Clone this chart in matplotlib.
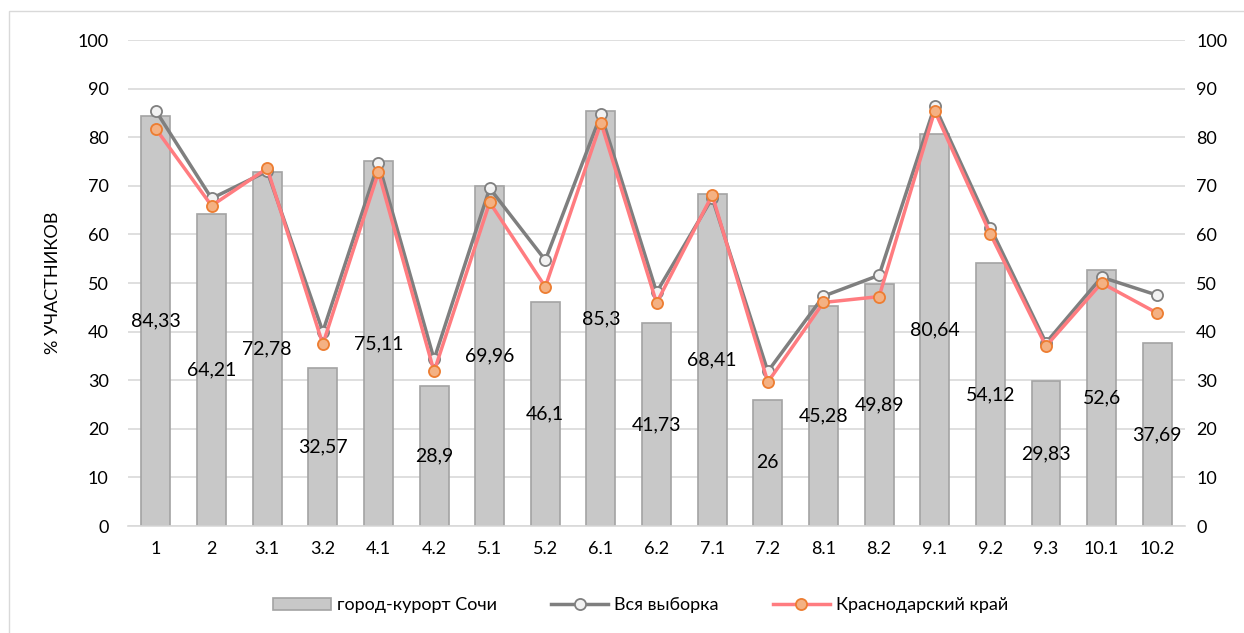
import numpy as np
import matplotlib
matplotlib.use("Agg")
from matplotlib import pyplot as plt
from matplotlib.patches import Rectangle

plt.rcParams['font.family'] = ['Lato', 'DejaVu Sans']

# Data
categories = ["1", "2", "3.1", "3.2", "4.1", "4.2", "5.1", "5.2", "6.1", "6.2",
              "7.1", "7.2", "8.1", "8.2", "9.1", "9.2", "9.3", "10.1", "10.2"]
sochi = [84.33, 64.21, 72.78, 32.57, 75.11, 28.9, 69.96, 46.1, 85.3, 41.73,
         68.41, 26, 45.28, 49.89, 80.64, 54.12, 29.83, 52.6, 37.69]
sochi_labels = ["84,33", "64,21", "72,78", "32,57", "75,11", "28,9", "69,96", "46,1",
                "85,3", "41,73", "68,41", "26", "45,28", "49,89", "80,64", "54,12",
                "29,83", "52,6", "37,69"]
all_sample = [85.4, 67.4, 73.0, 40.0, 74.7, 34.3, 69.5, 54.7, 84.7, 48.1,
              67.5, 31.8, 47.3, 51.6, 86.4, 61.4, 37.7, 51.2, 47.5]
krasnodar = [81.7, 65.9, 73.6, 37.4, 72.8, 31.8, 66.6, 49.2, 83.0, 45.9,
             68.1, 29.6, 46.0, 47.2, 85.4, 60.1, 37.0, 50.0, 43.8]
yticks = [0, 10, 20, 30, 40, 50, 60, 70, 80, 90, 100]

fig = plt.figure(figsize=(12.44, 6.33), dpi=100)
ax = fig.add_axes([0.103, 0.169, 0.8496, 0.7678])

# outer chart frame
fig.patches.append(Rectangle((9 / 1244, -0.1), 1.2, 1 - 11 / 633 + 0.1,
                             transform=fig.transFigure, fill=False,
                             edgecolor='#d9d9d9', linewidth=1))

x = np.arange(len(categories))
bars = ax.bar(x, sochi, width=0.52, color='#c8c8c8', edgecolor='#a3a3a3',
              linewidth=1.2, zorder=2, label='город-курорт Сочи')
l1, = ax.plot(x, all_sample, color='#7f7f7f', linewidth=2.5, marker='o',
              markersize=8, markerfacecolor='#f2f2f2', markeredgecolor='#7f7f7f',
              markeredgewidth=1.3, zorder=3, label='Вся выборка')
l2, = ax.plot(x, krasnodar, color='#ff7c80', linewidth=2.5, marker='o',
              markersize=8, markerfacecolor='#f4b183', markeredgecolor='#ed7d31',
              markeredgewidth=1.3, zorder=4, label='Краснодарский край')

for xi, v, lab in zip(x, sochi, sochi_labels):
    ax.text(xi, v / 2, lab, ha='center', va='center', fontsize=14,
            color='black', zorder=5)

ax.set_xlim(-0.5, len(categories) - 0.5)
ax.set_ylim(0, 100)
ax.set_yticks(yticks)
ax.set_xticks(x)
ax.set_xticklabels(categories)
ax.yaxis.grid(True, color='#d9d9d9', linewidth=1.2, zorder=0)
ax.set_axisbelow(True)
for s in ['top', 'right', 'left']:
    ax.spines[s].set_visible(False)
ax.spines['bottom'].set_color('#d9d9d9')
ax.spines['bottom'].set_linewidth(1.2)
ax.tick_params(axis='y', length=0, labelsize=13, pad=14)
ax.tick_params(axis='x', length=0, labelsize=13, pad=11)
ax.set_ylabel('% УЧАСТНИКОВ', fontsize=13, labelpad=12)

ax2 = ax.twinx()
ax2.set_ylim(0, 100)
ax2.set_yticks(yticks)
for s in ['top', 'right', 'left', 'bottom']:
    ax2.spines[s].set_visible(False)
ax2.tick_params(axis='y', length=0, labelsize=13, pad=8)

fig.legend([bars, l1, l2], [bars.get_label(), l1.get_label(), l2.get_label()],
           loc='center', bbox_to_anchor=(0.515, 0.044), ncol=3,
           frameon=False, fontsize=13, handlelength=3.2, columnspacing=3,
           handletextpad=0.3)

fig.savefig('out.png', dpi=100, facecolor='white')
